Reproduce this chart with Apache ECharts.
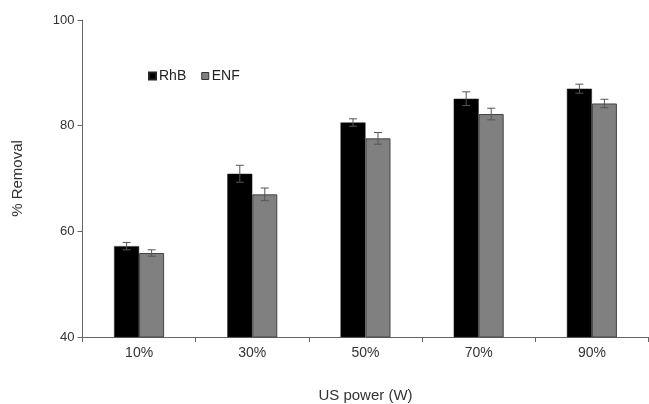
<!DOCTYPE html>
<html><head><meta charset="utf-8">
<script src="https://cdn.jsdelivr.net/npm/echarts@6/dist/echarts.min.js"></script>
<style>html,body{margin:0;padding:0;background:#fff}#c{width:649px;height:404px}</style>
</head><body><div id="c"></div>
<script>
const categories = ['10%', '30%', '50%', '70%', '90%'];
const rhb = [57.2, 70.9, 80.6, 85.1, 87.0];
const rhbErr = [0.7, 1.6, 0.7, 1.3, 0.85];
const enf = [55.9, 67.0, 77.6, 82.2, 84.2];
const enfErr = [0.6, 1.2, 1.1, 1.1, 0.8];
const yTicks = [40, 60, 80, 100];

const BW = 25;
function errSeries(vals, errs, off) {
  return {
    type: 'custom', z: 5, silent: true,
    data: vals.map((v, i) => [i, v, errs[i]]),
    renderItem: function (params, api) {
      const i = api.value(0), v = api.value(1), e = api.value(2);
      const hi = api.coord([i, v + e]), lo = api.coord([i, v - e]);
      const x = hi[0] + off, cw = 4;
      const st = { stroke: '#555', lineWidth: 1 };
      return { type: 'group', children: [
        { type: 'line', shape: { x1: x, y1: hi[1], x2: x, y2: lo[1] }, style: st },
        { type: 'line', shape: { x1: x - cw, y1: hi[1], x2: x + cw, y2: hi[1] }, style: st },
        { type: 'line', shape: { x1: x - cw, y1: lo[1], x2: x + cw, y2: lo[1] }, style: st }
      ]};
    }
  };
}
const chart = echarts.init(document.getElementById('c'), null, { renderer: 'canvas' });
const font = 'Liberation Sans, Arial, sans-serif';
chart.setOption({
  animation: false,
  grid: { left: 82.5, right: 0.5, top: 20, bottom: 67, containLabel: false, outerBoundsMode: 'none' },
  legend: {
    left: 148, top: 69, padding: 0, itemWidth: 7, itemHeight: 7, itemGap: 15,
    textStyle: { fontFamily: font, fontSize: 14, color: '#222', padding: [0, 0, 0, -2] },
    data: [{ name: 'RhB', icon: 'rect' }, { name: 'ENF', icon: 'rect', itemStyle: { borderColor: '#333', borderWidth: 1 } }]
  },
  xAxis: {
    type: 'category', data: categories,
    name: 'US power (W)', nameLocation: 'middle', nameGap: 51,
    nameTextStyle: { fontFamily: font, fontSize: 15, color: '#333' },
    axisLine: { lineStyle: { color: '#666', width: 1 } },
    axisTick: { show: true, length: 5, lineStyle: { color: '#666' } },
    axisLabel: { fontFamily: font, fontSize: 14, color: '#333', margin: 9 }
  },
  yAxis: {
    type: 'value', min: 40, max: 100, interval: 20,
    name: '% Removal', nameLocation: 'middle', nameGap: 57,
    nameTextStyle: { fontFamily: font, fontSize: 15, color: '#333' },
    axisLine: { show: true, lineStyle: { color: '#666', width: 1 } },
    axisTick: { show: true, length: 5, lineStyle: { color: '#666' } },
    axisLabel: { fontFamily: font, fontSize: 13, color: '#333', margin: 8,
      formatter: v => yTicks.includes(v) ? String(v) : '' },
    splitLine: { show: false }
  },
  series: [
    { name: 'RhB', type: 'bar', data: rhb, barWidth: BW, barGap: '0%',
      itemStyle: { color: '#000000', borderColor: '#222', borderWidth: 0.5 } },
    { name: 'ENF', type: 'bar', data: enf, barWidth: BW, barGap: '0%',
      itemStyle: { color: '#808080', borderColor: '#444', borderWidth: 1 } },
    errSeries(rhb, rhbErr, -BW / 2),
    errSeries(enf, enfErr, BW / 2)
  ]
});
</script></body></html>
